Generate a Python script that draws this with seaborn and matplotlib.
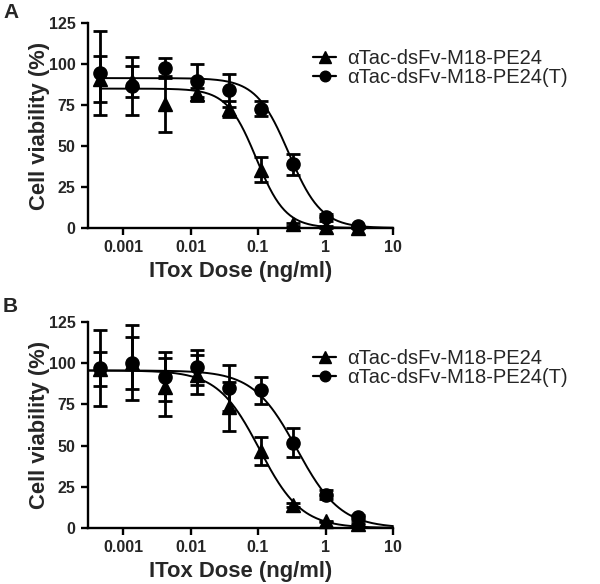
import numpy as np
import pandas as pd
import matplotlib
matplotlib.use("Agg")
import matplotlib.pyplot as plt
import seaborn as sns
from matplotlib.lines import Line2D

# ITox dose (ng/ml), 3-fold dilution series
dose = [0.000457, 0.00137, 0.00412, 0.0123, 0.037, 0.111, 0.333, 1.0, 3.0]
series_names = ["\u03b1Tac-dsFv-M18-PE24", "\u03b1Tac-dsFv-M18-PE24(T)"]
tick_vals = [0.001, 0.01, 0.1, 1, 10]
tick_labels = ["0.001", "0.01", "0.1", "1", "10"]

# panel A: mean and error of cell viability (%)
a_pe24 = [90.8, 89.5, 75.7, 81.6, 72.7, 35.5, 2.2, 0.5, 0.0]
a_pe24_err = [14, 9.5, 17, 4, 5, 7.5, 1, 0.5, 0]
a_pe24t = [94.5, 86.7, 97.5, 89.8, 83.9, 72.7, 38.8, 6.5, 1.0]
a_pe24t_err = [25.5, 17.5, 6, 10, 10, 4.5, 6.5, 2, 0.5]

# panel B
b_pe24 = [96.4, 100.2, 85.5, 93, 73.7, 47, 14, 4, 2.4]
b_pe24_err = [10.4, 15.7, 17.7, 11.7, 15, 8.5, 1, 0.5, 0.5]
b_pe24t = [97, 100.4, 91.8, 97.4, 85, 83.5, 51.7, 20.3, 6.5]
b_pe24t_err = [23, 22.6, 15, 10.4, 14, 8, 8.8, 3, 1.5]

# fitted 4PL curves: (top, bottom, IC50, hill slope)
a_fit = [(85, 0, 0.094, 2.0), (91.4, 0, 0.285, 1.8)]
b_fit = [(95.6, 0, 0.105, 1.4), (95.6, 0, 0.377, 1.34)]

sns.set_style("ticks")
plt.rcParams["font.family"] = ["Liberation Sans", "DejaVu Sans"]

fig = plt.figure(figsize=(6, 5.84), dpi=100)
ax_a = fig.add_axes([0.1467, 0.6096, 0.5083, 0.351])
ax_b = fig.add_axes([0.1467, 0.0959, 0.5083, 0.3527])

markers = ["^", "o"]
msizes = [10, 9.5]


def four_pl(x, top, bottom, ic50, hill):
    return bottom + (top - bottom) / (1 + (x / ic50) ** hill)


def draw_panel(ax, means, errs, fits, curve_start, legend_top):
    # fitted curves
    for fit in fits:
        xs = np.logspace(np.log10(curve_start), 1, 300)
        curve = pd.DataFrame({"dose": xs, "viability": four_pl(xs, *fit)})
        sns.lineplot(data=curve, x="dose", y="viability", ax=ax,
                     color="black", lw=1.4, clip_on=False)
    # points with error bars
    for y, e, m, ms in zip(means, errs, markers, msizes):
        ax.errorbar(dose, y, yerr=e, fmt="none", ecolor="black",
                    elinewidth=2.0, capsize=5, capthick=2.0, clip_on=False)
        ax.plot(dose, y, ls="none", marker=m, ms=ms, color="black",
                clip_on=False, zorder=4)

    ax.set_xscale("log")
    ax.set_xlim(10 ** -3.52, 10)
    ax.set_ylim(0, 125)
    ax.set_yticks([0, 25, 50, 75, 100, 125])
    ax.set_xticks(tick_vals)
    ax.set_xticklabels(tick_labels)
    ax.xaxis.set_minor_locator(matplotlib.ticker.NullLocator())
    for lab in ax.get_xticklabels() + ax.get_yticklabels():
        lab.set_fontweight("bold")
        lab.set_fontsize(11.5)
    ax.tick_params(width=1.7, length=5, color="black", pad=4)
    for s in ["left", "bottom"]:
        ax.spines[s].set_linewidth(1.7)
        ax.spines[s].set_color("black")
    sns.despine(ax=ax)
    ax.set_xlabel("ITox Dose (ng/ml)", fontsize=15.8, fontweight="bold",
                  labelpad=4)
    ax.set_ylabel("Cell viability (%)", fontsize=15.8, fontweight="bold")
    ax.yaxis.set_label_coords(-0.125, 0.5)

    handles = [Line2D([], [], color="black", lw=1.6, marker=m, ms=ms * 0.8)
               for m, ms in zip(markers, msizes)]
    ax.legend(handles, series_names, frameon=False, fontsize=14.5,
              handlelength=1.15, handletextpad=0.55, labelspacing=0.0,
              loc="upper left", bbox_to_anchor=(313 / 600, legend_top),
              bbox_transform=fig.transFigure, borderpad=0, borderaxespad=0)


draw_panel(ax_a, [a_pe24, a_pe24t], [a_pe24_err, a_pe24t_err], a_fit,
           dose[0], 1 - 49 / 584)
draw_panel(ax_b, [b_pe24, b_pe24t], [b_pe24_err, b_pe24t_err], b_fit,
           10 ** -3.52, 1 - 349 / 584)

fig.text(3 / 600, 1 - 13 / 584, "A", fontsize=15, fontweight="bold",
         va="center", ha="left")
fig.text(3 / 600, 1 - 307 / 584, "B", fontsize=15, fontweight="bold",
         va="center", ha="left")

fig.savefig("out.png", dpi=100)
